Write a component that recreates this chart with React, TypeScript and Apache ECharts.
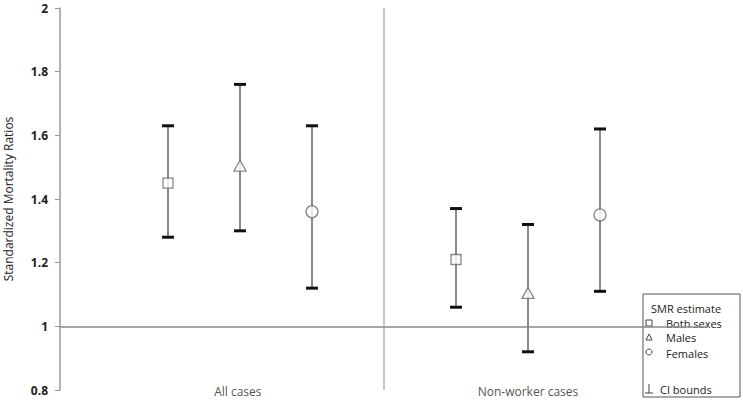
import React, { useEffect, useRef } from "react";
import * as echarts from "echarts";

const groups = ["All cases", "Non-worker cases"];
const groupLabelX = [1.97, 6];
const sexes = ["Both sexes", "Males", "Females"];
const symbols = ["rect", "triangle", "circle"];
const smrAll = [1.45, 1.505, 1.36];
const lowerAll = [1.28, 1.3, 1.12];
const upperAll = [1.63, 1.76, 1.63];
const smrNon = [1.21, 1.105, 1.35];
const lowerNon = [1.06, 0.92, 1.11];
const upperNon = [1.37, 1.32, 1.62];
const yTicks = [0.8, 1, 1.2, 1.4, 1.6, 1.8, 2];

const FONT = "'Open Sans', 'Liberation Sans', sans-serif";

export default function App() {
  const ref = useRef<HTMLDivElement>(null);
  useEffect(() => {
    document.body.style.margin = "0";
    const chart = echarts.init(ref.current!, null, { renderer: "svg" });
    const smr = [smrAll, smrNon];
    const lo = [lowerAll, lowerNon];
    const hi = [upperAll, upperNon];
    const series: any[] = [];
    sexes.forEach((sex, s) => {
      const barData = groups.map((g, gi) => [gi * 4 + s + 1, lo[gi][s], hi[gi][s]]);
      series.push({
        type: "custom",
        name: sex + " CI",
        data: barData,
        z: 3,
        renderItem: (params: any, api: any) => {
          const x = api.value(0);
          const a = api.coord([x, api.value(1)]);
          const b = api.coord([x, api.value(2)]);
          const cw = 6;
          return {
            type: "group",
            children: [
              { type: "line", shape: { x1: a[0], y1: a[1], x2: b[0], y2: b[1] }, style: { stroke: "#8a8a8a", lineWidth: 2 } },
              { type: "line", shape: { x1: a[0] - cw, y1: a[1], x2: a[0] + cw, y2: a[1] }, style: { stroke: "#111", lineWidth: 3 } },
              { type: "line", shape: { x1: b[0] - cw, y1: b[1], x2: b[0] + cw, y2: b[1] }, style: { stroke: "#111", lineWidth: 3 } },
            ],
          };
        },
      });
      series.push({
        type: "scatter",
        name: sex,
        data: groups.map((g, gi) => [gi * 4 + s + 1, smr[gi][s]]),
        symbol: symbols[s],
        symbolSize: s === 1 ? [12, 11] : s === 0 ? 10 : 12,
        itemStyle: { color: "#fff", borderColor: "#6a6a6a", borderWidth: 1.3 },
        z: 5,
      });
    });
    series.push({
      type: "scatter",
      name: "labels",
      data: groups.map((g, gi) => ({ name: g, value: [groupLabelX[gi], yTicks[0]] })),
      symbolSize: 0,
      label: {
        show: true,
        position: "inside",
        offset: [0, 1],
        formatter: (p: any) => p.name,
        color: "#222",
        fontSize: 12,
        fontFamily: FONT,
      },
      silent: true,
      markLine: {
        silent: true,
        symbol: "none",
        label: { show: false },
        data: [
          { xAxis: 4, lineStyle: { color: "#c8c8c8", width: 2, type: "solid" } },
          { yAxis: 1, lineStyle: { color: "#888", width: 1.5, type: "solid" } },
        ],
      },
    });

    const txt = (text: string, x: number, y: number) => ({
      type: "text",
      x,
      y,
      style: { text, fontFamily: FONT, fontSize: 11, fill: "#222", textVerticalAlign: "middle", verticalAlign: "middle" },
    });

    chart.setOption({
      animation: false,
      grid: { left: 60, right: 35, top: 8, bottom: 13, containLabel: false, outerBoundsMode: "none" },
      xAxis: { type: "value", min: -0.5, max: 8.5, show: false },
      yAxis: {
        type: "value",
        min: yTicks[0],
        max: yTicks[yTicks.length - 1],
        interval: 0.2,
        name: "Standardized Mortality Ratios",
        nameLocation: "middle",
        nameGap: 46,
        nameTextStyle: { fontFamily: FONT, fontSize: 12, color: "#222", padding: [0, 0, 0, 0] },
        axisLine: { show: true, onZero: false, lineStyle: { color: "#999", width: 1.5 } },
        axisTick: { show: true, length: 5, lineStyle: { color: "#999" } },
        splitLine: { show: false },
        axisLabel: {
          margin: 12,
          fontFamily: FONT,
          fontSize: 12,
          fontWeight: "bold",
          color: "#222",
          formatter: (v: number) => String(Math.round(v * 10) / 10),
        },
      },
      series,
      graphic: [
        {
          type: "group",
          x: 643,
          y: 294,
          z: 100,
          children: [
            { type: "rect", shape: { x: 0, y: 0, width: 97, height: 103 }, style: { fill: "#fff", stroke: "#555", lineWidth: 1 } },
            txt("SMR estimate", 8, 14),
            { type: "rect", shape: { x: 3, y: 26, width: 6, height: 6 }, style: { fill: "#fff", stroke: "#444", lineWidth: 1 } },
            txt(sexes[0], 23, 29),
            { type: "polygon", shape: { points: [[6, 40], [3, 46], [9, 46]] }, style: { fill: "#fff", stroke: "#444", lineWidth: 1 } },
            txt(sexes[1], 23, 43),
            { type: "circle", shape: { cx: 6, cy: 58, r: 3 }, style: { fill: "#fff", stroke: "#444", lineWidth: 1 } },
            txt(sexes[2], 23, 59),
            { type: "line", shape: { x1: 6, y1: 90, x2: 6, y2: 99 }, style: { stroke: "#444", lineWidth: 1 } },
            { type: "line", shape: { x1: 2, y1: 99, x2: 10, y2: 99 }, style: { stroke: "#444", lineWidth: 1 } },
            txt("CI bounds", 17, 95),
          ],
        },
      ],
    });
    return () => chart.dispose();
  }, []);
  return <div ref={ref} style={{ position: "absolute", left: 0, top: 0, width: 743, height: 403, background: "#fff" }} />;
}
